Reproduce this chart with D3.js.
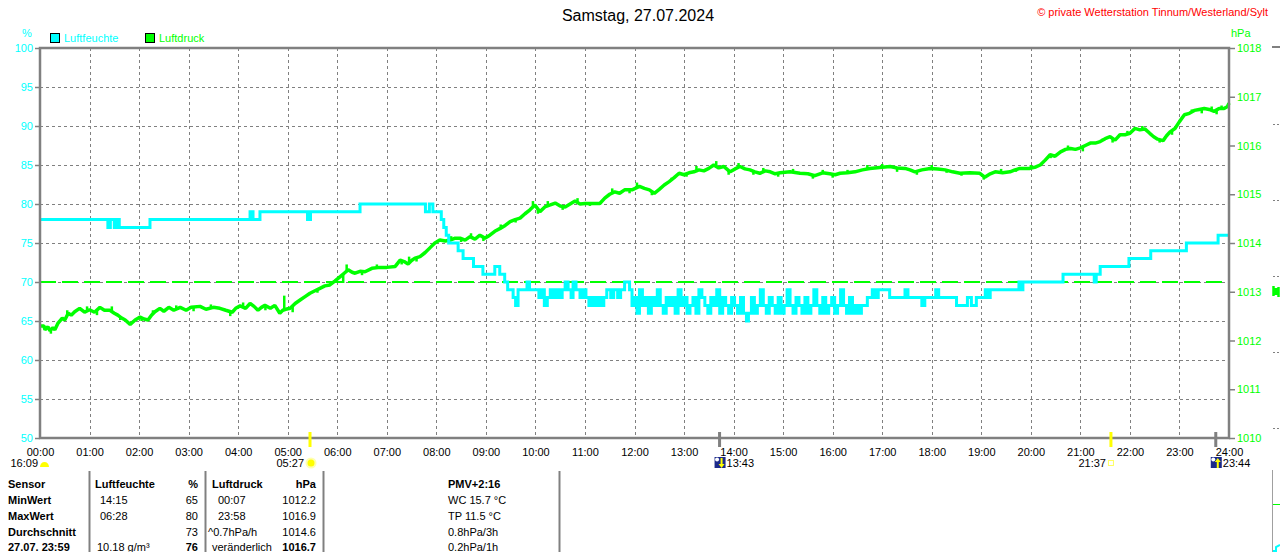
<!DOCTYPE html>
<html><head><meta charset="utf-8">
<script src="https://cdn.jsdelivr.net/npm/d3@7"></script>
<style>
body{margin:0;background:#fff}
svg{display:block}
text{font-family:"Liberation Sans",Arial,sans-serif}
</style></head>
<body><svg id="c" width="1280" height="552"></svg>
<script>
// ---------- data ----------
const hourTicks = d3.range(0, 25);
const humTicks = [50,55,60,65,70,75,80,85,90,95,100];
const presTicks = [1010,1011,1012,1013,1014,1015,1016,1017,1018];
const refPressure = 1013.2;

// humidity [hour, %] (step after)
const humidity = [
[0,78],[1.37,77],[1.42,78],[1.5,77],[1.56,78],[1.6,77],[2.22,78],[4.24,79],[4.3,78],[4.44,79],[5.4,78],[5.46,79],[6.46,80],[7.78,79],[7.86,80],[7.93,79],[8.1,78],[8.15,77],[8.2,76],[8.25,75],[8.44,74],[8.54,73],[8.75,72],[8.94,71],[9.18,72],[9.28,71],[9.38,70],[9.44,69],
[9.55,68],[9.6,67],[9.65,69],[9.83,70],[9.88,69],[10.07,68],[10.12,69],[10.18,67],[10.24,68],[10.3,69],[10.36,68],[10.42,69],[10.48,68],[10.54,69],[10.6,70],[10.66,69],[10.72,68],[10.76,70],[10.82,69],[10.9,68],[10.96,69],[11.02,68],[11.08,67],[11.14,68],[11.2,67],[11.26,68],[11.32,67],[11.38,68],[11.44,69],[11.52,68],[11.58,69],[11.66,68],[11.72,69],[11.8,70],[11.9,69],[11.95,67],[12.0,68],[12.05,66],[12.1,69],[12.16,67],[12.22,68],[12.28,66],[12.34,68],[12.4,67],[12.46,69],[12.52,67],[12.58,66],[12.64,68],[12.7,67],[12.76,68],[12.82,66],[12.88,69],[12.94,67],[13.0,68],[13.06,66],[13.12,67],[13.18,68],[13.24,66],[13.3,69],[13.36,68],[13.42,67],[13.48,66],[13.54,68],[13.6,67],[13.66,69],[13.72,66],[13.78,68],[13.84,67],[13.9,66],[13.96,68],[14.02,67],[14.08,66],[14.14,68],[14.2,66],[14.26,65],[14.3,66],[14.36,68],[14.42,66],[14.48,67],[14.54,69],[14.6,67],[14.66,66],[14.72,68],[14.78,67],[14.84,66],[14.9,68],[14.96,66],[15.02,67],[15.08,69],[15.14,67],[15.2,66],[15.26,68],[15.32,67],[15.38,66],[15.44,68],[15.5,66],[15.56,67],[15.62,69],[15.68,67],[15.74,66],[15.8,68],[15.86,66],[15.92,67],[15.98,68],[16.04,66],[16.1,67],[16.16,69],[16.22,67],[16.28,66],[16.34,68],[16.4,66],[16.46,67],[16.52,66],[16.58,67],
[16.7,68],[16.8,69],[16.86,68],[16.92,69],[17.15,68],[17.46,69],[17.52,68],[17.8,67],[17.86,68],[18.08,69],[18.14,68],[18.5,67],[18.72,68],[18.8,67],[18.9,68],[19.08,69],[19.12,68],[19.18,69],[19.76,70],[19.8,69],[19.84,70],[20.65,71],[21.28,70],[21.32,71],[21.4,72],[21.98,73],[22.42,74],[23.14,75],[23.78,76],[24,76]
];

// pressure [hour, hPa]
const pressure = [
[0,1012.30],[0.08,1012.30],[0.1,1012.22],[0.16,1012.28],[0.2,1012.20],[0.26,1012.26],[0.3,1012.22],[0.36,1012.35],[0.45,1012.46],[0.5,1012.42],[0.57,1012.56],[0.63,1012.52],[0.7,1012.59],[0.8,1012.66],[0.9,1012.58],[1.0,1012.63],[1.1,1012.58],[1.21,1012.68],[1.3,1012.62],[1.41,1012.62],[1.5,1012.56],[1.57,1012.52],[1.65,1012.46],[1.72,1012.42],[1.82,1012.33],[1.92,1012.42],[2.02,1012.48],[2.1,1012.44],[2.18,1012.42],[2.25,1012.52],[2.32,1012.59],[2.42,1012.66],[2.5,1012.60],[2.6,1012.68],[2.7,1012.62],[2.83,1012.68],[2.95,1012.62],[3.05,1012.68],[3.23,1012.70],[3.35,1012.64],[3.5,1012.68],[3.63,1012.66],[3.75,1012.62],[3.88,1012.58],[3.95,1012.66],[4.04,1012.71],[4.15,1012.66],[4.24,1012.76],[4.32,1012.70],[4.40,1012.62],[4.47,1012.68],[4.54,1012.72],[4.65,1012.66],[4.74,1012.72],[4.84,1012.56],[4.9,1012.62],[4.96,1012.64],[5.05,1012.66],[5.15,1012.76],[5.25,1012.83],[5.35,1012.90],[5.45,1012.97],[5.55,1013.02],[5.65,1013.07],[5.75,1013.12],[5.85,1013.14],[5.95,1013.22],[6.06,1013.31],[6.14,1013.38],[6.22,1013.45],[6.3,1013.40],[6.36,1013.38],[6.46,1013.42],[6.56,1013.41],[6.7,1013.48],[6.86,1013.50],[7.0,1013.50],[7.17,1013.52],[7.27,1013.65],[7.35,1013.62],[7.43,1013.57],[7.5,1013.64],[7.57,1013.69],[7.67,1013.72],[7.77,1013.80],[7.87,1013.90],[7.97,1014.00],[8.07,1014.06],[8.18,1014.04],[8.28,1014.06],[8.38,1014.10],[8.48,1014.10],[8.58,1014.06],[8.68,1014.13],[8.78,1014.08],[8.88,1014.16],[8.98,1014.10],[9.08,1014.16],[9.18,1014.24],[9.29,1014.30],[9.39,1014.36],[9.49,1014.44],[9.59,1014.48],[9.69,1014.51],[9.79,1014.60],[9.89,1014.68],[9.99,1014.78],[10.09,1014.64],[10.19,1014.74],[10.3,1014.78],[10.4,1014.82],[10.5,1014.76],[10.6,1014.74],[10.7,1014.80],[10.8,1014.86],[10.9,1014.80],[11.0,1014.81],[11.15,1014.81],[11.3,1014.81],[11.4,1014.92],[11.5,1015.00],[11.6,1015.05],[11.7,1015.02],[11.8,1015.09],[11.95,1015.09],[12.1,1015.16],[12.2,1015.12],[12.3,1015.09],[12.4,1015.02],[12.5,1015.10],[12.6,1015.19],[12.7,1015.26],[12.8,1015.34],[12.9,1015.43],[13.0,1015.40],[13.1,1015.44],[13.2,1015.46],[13.3,1015.50],[13.4,1015.48],[13.5,1015.53],[13.6,1015.60],[13.7,1015.54],[13.8,1015.57],[13.93,1015.46],[14.03,1015.52],[14.13,1015.57],[14.23,1015.52],[14.33,1015.50],[14.43,1015.46],[14.53,1015.43],[14.64,1015.48],[14.74,1015.46],[14.84,1015.42],[14.94,1015.44],[15.14,1015.46],[15.34,1015.43],[15.5,1015.42],[15.64,1015.38],[15.8,1015.44],[15.94,1015.42],[16.05,1015.40],[16.15,1015.43],[16.3,1015.44],[16.45,1015.46],[16.6,1015.50],[16.75,1015.53],[16.95,1015.55],[17.16,1015.57],[17.3,1015.54],[17.46,1015.53],[17.56,1015.50],[17.66,1015.46],[17.8,1015.50],[17.97,1015.53],[18.12,1015.52],[18.27,1015.50],[18.42,1015.46],[18.57,1015.43],[18.77,1015.44],[18.97,1015.43],[19.07,1015.35],[19.18,1015.42],[19.28,1015.46],[19.43,1015.44],[19.58,1015.46],[19.68,1015.50],[19.78,1015.53],[19.98,1015.53],[20.1,1015.56],[20.19,1015.60],[20.29,1015.70],[20.39,1015.81],[20.49,1015.78],[20.6,1015.87],[20.7,1015.92],[20.8,1015.94],[20.9,1015.92],[21.0,1015.95],[21.1,1016.00],[21.2,1016.05],[21.3,1016.05],[21.4,1016.08],[21.5,1016.14],[21.6,1016.18],[21.7,1016.11],[21.8,1016.22],[21.9,1016.22],[22.0,1016.25],[22.1,1016.35],[22.2,1016.32],[22.3,1016.34],[22.4,1016.25],[22.48,1016.18],[22.56,1016.13],[22.67,1016.10],[22.74,1016.20],[22.81,1016.28],[22.91,1016.35],[23.0,1016.49],[23.1,1016.63],[23.2,1016.66],[23.3,1016.72],[23.4,1016.74],[23.5,1016.76],[23.6,1016.74],[23.7,1016.70],[23.8,1016.76],[23.9,1016.76],[23.97,1016.80],[24.0,1016.87]
];

// short pressure spikes [hour, hPa peak]
const pressureSpikes = [
[0.22,1012.14],[0.55,1012.62],[0.95,1012.70],[1.15,1012.52],[1.45,1012.70],[1.62,1012.42],[2.05,1012.40],[2.28,1012.62],[2.75,1012.72],[3.1,1012.60],[3.45,1012.74],[3.84,1012.50],[4.1,1012.78],[4.55,1012.62],[4.93,1012.92],[5.1,1012.58],[5.6,1012.98],[6.12,1013.18],[6.19,1013.56],[6.5,1013.34],[6.8,1013.56],[7.3,1013.56],[7.45,1013.72],[7.6,1013.62],[7.85,1013.86],[8.3,1014.14],[8.5,1014.02],[8.7,1014.20],[8.95,1014.04],[9.3,1014.38],[9.6,1014.42],[9.95,1014.86],[10.05,1014.60],[10.25,1014.86],[10.55,1014.68],[10.85,1014.92],[11.1,1014.76],[11.55,1015.12],[11.9,1015.02],[12.05,1015.24],[12.35,1014.98],[12.75,1015.34],[13.05,1015.36],[13.25,1015.58],[13.65,1015.68],[13.9,1015.40],[14.1,1015.64],[14.4,1015.40],[14.6,1015.54],[14.9,1015.36],[15.2,1015.52],[15.6,1015.32],[15.8,1015.50],[16.0,1015.34],[16.3,1015.50],[16.7,1015.60],[17.0,1015.62],[17.3,1015.46],[17.7,1015.40],[18.0,1015.60],[18.3,1015.44],[18.6,1015.38],[19.05,1015.30],[19.4,1015.52],[19.7,1015.46],[20.0,1015.60],[20.4,1015.74],[20.75,1016.00],[21.05,1015.88],[21.45,1016.14],[21.65,1016.06],[21.95,1016.30],[22.25,1016.40],[22.6,1016.06],[22.85,1016.22],[23.25,1016.74],[23.45,1016.66],[23.65,1016.80],[23.75,1016.64],[23.85,1016.82]
];

const dayLength = "16:09";
const sunrise = {t:5.45, label:"05:27"};
const sunset = {t:21.617, label:"21:37"};
const moonset = {t:13.717, label:"13:43"};
const moonrise = {t:23.733, label:"23:44"};

const tableCols = [
  ["Sensor","MinWert","MaxWert","Durchschnitt","27.07. 23:59"],
  ["Luftfeuchte","14:15","06:28","","10.18 g/m³"],
  ["%","65","80","73","76"],
  ["Luftdruck","00:07","23:58","^0.7hPa/h","veränderlich"],
  ["hPa","1012.2","1016.9","1014.6","1016.7"],
  ["PMV+2:16","WC 15.7 °C","TP 11.5 °C","0.8hPa/3h","0.2hPa/1h"]
];

// ---------- chart ----------
const svg = d3.select("#c");
const L = 40, R = 1229, T = 48, B = 438;
const x = d3.scaleLinear().domain([0,24]).range([L,R]);
const yH = d3.scaleLinear().domain([50,100]).range([B,T]);
const yP = d3.scaleLinear().domain([1010,1018]).range([B,T]);
const GREY = "#808080", CYAN = "#00ffff", GREEN = "#00ff00";
const FONT = "Liberation Sans, Arial, sans-serif";

// grid
svg.append("g").selectAll("line").data(hourTicks.filter(h=>h>0&&h<24)).join("line")
  .attr("x1",d=>Math.round(x(d))+0.5).attr("x2",d=>Math.round(x(d))+0.5).attr("y1",T).attr("y2",B)
  .attr("stroke",GREY).attr("stroke-dasharray","3,3");
svg.append("g").selectAll("line").data(humTicks.filter(v=>v>50&&v<100)).join("line")
  .attr("x1",L).attr("x2",R).attr("y1",d=>Math.round(yH(d))+0.5).attr("y2",d=>Math.round(yH(d))+0.5)
  .attr("stroke",GREY).attr("stroke-dasharray","3,3");

// reference pressure line
svg.append("line").attr("x1",L).attr("x2",R).attr("y1",yP(refPressure)).attr("y2",yP(refPressure))
  .attr("stroke",GREEN).attr("stroke-width",2).attr("stroke-dasharray","16,6");

// pressure
svg.append("path").datum(pressure)
  .attr("d", d3.line().x(d=>x(d[0])).y(d=>yP(d[1])))
  .attr("fill","none").attr("stroke",GREEN).attr("stroke-width",3.5).attr("stroke-linejoin","bevel");
const bisect = d3.bisector(d=>d[0]).left;
function pressureAt(t){
  const i = Math.max(1, bisect(pressure, t));
  const a = pressure[i-1], b = pressure[i];
  return a[1] + (b[1]-a[1])*(t-a[0])/(b[0]-a[0]);
}
svg.append("g").selectAll("line").data(pressureSpikes).join("line")
  .attr("x1",d=>x(d[0])).attr("x2",d=>x(d[0]))
  .attr("y1",d=>yP(pressureAt(d[0]))).attr("y2",d=>yP(d[1]))
  .attr("stroke",GREEN).attr("stroke-width",2.5);

// humidity
svg.append("path").datum(humidity)
  .attr("d", d3.line().x(d=>x(d[0])).y(d=>yH(d[1])).curve(d3.curveStepAfter))
  .attr("fill","none").attr("stroke",CYAN).attr("stroke-width",3);

// frame
svg.append("rect").attr("x",L).attr("y",T).attr("width",R-L).attr("height",B-T)
  .attr("fill","none").attr("stroke",GREY).attr("stroke-width",2.5);

// left axis
const gl = svg.append("g").attr("transform",`translate(${L},0)`)
  .call(d3.axisLeft(yH).tickValues(humTicks).tickSize(5).tickPadding(2));
gl.select(".domain").remove();
gl.selectAll(".tick line").attr("stroke",GREY).attr("stroke-width",1.5);
gl.selectAll(".tick text").attr("fill",CYAN).style("font-size","11px").style("font-family",FONT);

// right axis
const gr = svg.append("g").attr("transform",`translate(${R},0)`)
  .call(d3.axisRight(yP).tickValues(presTicks).tickSize(6).tickPadding(2).tickFormat(d3.format("d")));
gr.select(".domain").remove();
gr.selectAll(".tick line").attr("stroke",GREY).attr("stroke-width",1.5);
gr.selectAll(".tick text").attr("fill",GREEN).style("font-size","11px").style("font-family",FONT);

// bottom axis labels
const gb = svg.append("g").attr("transform",`translate(0,${B})`)
  .call(d3.axisBottom(x).tickValues(hourTicks).tickSize(0).tickPadding(10)
    .tickFormat(d=>String(d).padStart(2,"0")+":00"));
gb.select(".domain").remove();
gb.selectAll(".tick text").attr("fill","#000").style("font-size","11px").style("font-family",FONT);

// titles
svg.append("text").attr("x",638).attr("y",21).attr("text-anchor","middle").style("font-size","16px").text("Samstag, 27.07.2024");
svg.append("text").attr("x",1268).attr("y",16).attr("text-anchor","end").attr("fill","#ff0000").style("font-size","11px")
  .text("© private Wetterstation Tinnum/Westerland/Sylt");
svg.append("text").attr("x",27).attr("y",37).attr("text-anchor","middle").attr("fill",CYAN).style("font-size","11px").text("%");
svg.append("text").attr("x",1231).attr("y",37).attr("fill",GREEN).style("font-size","11px").text("hPa");

// legend
const legend = [{n:"Luftfeuchte",c:CYAN,x:50},{n:"Luftdruck",c:GREEN,x:145}];
legend.forEach(l=>{
  svg.append("rect").attr("x",l.x+0.5).attr("y",33.5).attr("width",9).attr("height",9).attr("fill",l.c).attr("stroke","#000");
  svg.append("text").attr("x",l.x+14).attr("y",42).attr("fill",l.c).style("font-size","11px").text(l.n);
});

// sun / moon markers
function tick(t,color){
  svg.append("rect").attr("x",x(t)-1.5).attr("y",432).attr("width",3).attr("height",15).attr("fill",color);
}
tick(sunrise.t,"#ffff00"); tick(sunset.t,"#ffff00");
tick(moonset.t,GREY); tick(moonrise.t,GREY);

const rowY = 467;
svg.append("text").attr("x",38).attr("y",rowY).attr("text-anchor","end").style("font-size","11px").text(dayLength);
svg.append("path").attr("d","M40,467 A4.5,5 0 0 1 49,467 Z").attr("fill","#ffff00");
// sunrise
svg.append("text").attr("x",x(sunrise.t)-6).attr("y",rowY).attr("text-anchor","end").style("font-size","11px").text(sunrise.label);
svg.append("circle").attr("cx",x(sunrise.t)+1).attr("cy",463).attr("r",5.5).attr("fill","#ffffb0");
svg.append("circle").attr("cx",x(sunrise.t)+1).attr("cy",463).attr("r",3.5).attr("fill","#ffff00");
// sunset
svg.append("text").attr("x",x(sunset.t)-5).attr("y",rowY).attr("text-anchor","end").style("font-size","11px").text(sunset.label);
svg.append("rect").attr("x",x(sunset.t)-2.5).attr("y",460.5).attr("width",5).attr("height",5).attr("fill","none").attr("stroke","#ffff60");
// moon icons
function moon(t,up,label){
  const mx = x(t)-5;
  svg.append("rect").attr("x",mx).attr("y",457).attr("width",11).attr("height",11).attr("fill","#1c2a8a");
  svg.append("circle").attr("cx",mx+2.5).attr("cy",459.5).attr("r",2).attr("fill","#ffffff");
  const ax = mx+7;
  const p = up ? `M${ax},458 L${ax+3},462 L${ax+1},462 L${ax+1},468 L${ax-1},468 L${ax-1},462 L${ax-3},462 Z`
               : `M${ax},468 L${ax+3},464 L${ax+1},464 L${ax+1},458 L${ax-1},458 L${ax-1},464 L${ax-3},464 Z`;
  svg.append("path").attr("d",p).attr("fill","#ffff00");
  svg.append("text").attr("x",mx+12).attr("y",rowY).style("font-size","11px").text(label);
}
moon(moonset.t,false,moonset.label);
moon(moonrise.t,true,moonrise.label);

// table
const colLines = [89,205,323,559];
colLines.forEach(cx=>svg.append("line").attr("x1",cx+0.5).attr("x2",cx+0.5).attr("y1",471).attr("y2",552).attr("stroke",GREY).attr("stroke-width",2));
const rowsY = [488,504,520,536,551];
const colDefs = [
  {x:8, anchor:"start", bold:[0,1,2,3,4]},
  {x:95, anchor:"start", bold:[0], xs:[95,100,100,100,97]},
  {x:198, anchor:"end", bold:[0,4]},
  {x:212, anchor:"start", bold:[0], xs:[212,218,218,208,212]},
  {x:316, anchor:"end", bold:[0,4]},
  {x:448, anchor:"start", bold:[0]}
];
tableCols.forEach((col,ci)=>{
  const def = colDefs[ci];
  col.forEach((s,ri)=>{
    svg.append("text").attr("x",def.xs?def.xs[ri]:def.x).attr("y",rowsY[ri]).attr("text-anchor",def.anchor)
      .style("font-size","11px").style("font-weight",def.bold.includes(ri)?"bold":"normal").text(s);
  });
});

// clipped neighbouring panel at right edge
svg.append("line").attr("x1",1272).attr("x2",1280).attr("y1",47).attr("y2",47).attr("stroke",GREY).attr("stroke-width",2);
[124,200,276,352,428].forEach(yy=>{
  svg.append("line").attr("x1",1273).attr("x2",1275).attr("y1",yy+0.5).attr("y2",yy+0.5).attr("stroke",GREY);
  svg.append("line").attr("x1",1277).attr("x2",1279).attr("y1",yy+0.5).attr("y2",yy+0.5).attr("stroke",GREY);
});
svg.append("path").attr("d","M1273.5,286 L1273.5,296 M1276,288 L1276,295 M1278.5,287 L1278.5,297").attr("stroke",GREEN).attr("stroke-width",2.5);
svg.append("line").attr("x1",1272.5).attr("x2",1272.5).attr("y1",470).attr("y2",552).attr("stroke","#a0a0a0").attr("stroke-width",1);
svg.append("line").attr("x1",1273).attr("x2",1280).attr("y1",504.5).attr("y2",504.5).attr("stroke",GREEN);
svg.append("path").attr("d","M1273,551 L1276,551 L1276,547 L1280,545").attr("fill","none").attr("stroke",CYAN).attr("stroke-width",2);
</script></body></html>
